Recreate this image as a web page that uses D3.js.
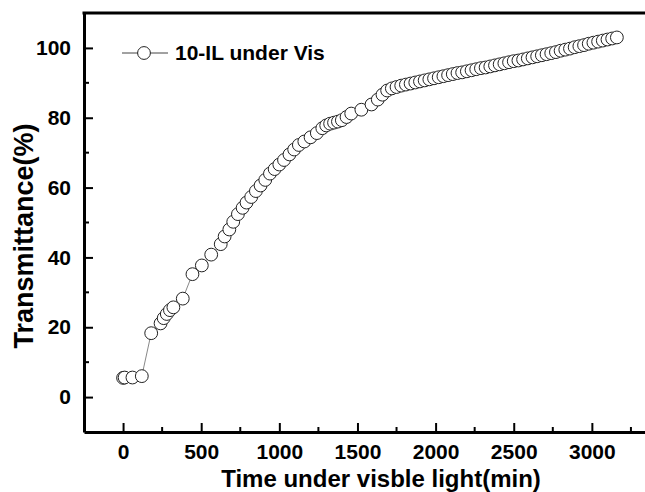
<!DOCTYPE html>
<html>
<head>
<meta charset="utf-8">
<script src="https://cdn.jsdelivr.net/npm/d3@7"></script>
<style>
  body { margin: 0; background: #fff; }
  text { font-family: "Liberation Sans", Arial, sans-serif; font-weight: bold; fill: #000; }
</style>
</head>
<body>
<svg id="chart" width="645" height="492"></svg>
<script>
// time (min) and transmittance (%)
var timeMin = [0, 10, 60, 120, 180, 240, 260, 280, 300, 322, 382, 444, 504, 564, 625,
  650, 680, 705, 735, 765, 790, 820, 850, 880, 910, 940, 970, 1000, 1030, 1065,
  1095, 1125, 1160, 1200, 1240, 1275, 1300, 1325, 1350, 1375, 1400, 1430, 1460, 1525, 1590,
  1630, 1660, 1690, 1720, 1750, 1780, 1810, 1840, 1870, 1900, 1930, 1960, 1990, 2020,
  2050, 2080, 2110, 2140, 2170, 2200, 2230, 2260, 2290, 2320, 2350, 2380, 2410, 2440,
  2470, 2500, 2530, 2560, 2590, 2620, 2650, 2680, 2710, 2740, 2770, 2800, 2830, 2860,
  2890, 2920, 2950, 2980, 3010, 3040, 3070, 3100, 3130, 3160];
var transmittance = [5.5, 5.6, 5.6, 6.0, 18.3, 21.1, 22.6, 23.8, 24.9, 25.7, 28.2, 35.2, 37.7, 40.8, 43.8,
  46.0, 48.0, 50.2, 52.4, 54.2, 55.7, 57.3, 59.0, 60.6, 62.2, 64.0, 65.3, 66.6, 67.9, 69.5,
  70.9, 72.2, 73.2, 74.4, 75.6, 77.0, 77.8, 78.3, 78.6, 78.9, 79.3, 80.2, 81.2, 82.3, 83.8,
  85.2, 86.6, 87.8, 88.4, 88.8, 89.2, 89.5, 89.8, 90.1, 90.4, 90.7, 91.0, 91.3, 91.6,
  91.9, 92.2, 92.5, 92.8, 93.0, 93.3, 93.6, 93.9, 94.2, 94.4, 94.7, 95.0, 95.3, 95.6,
  95.9, 96.2, 96.4, 96.7, 97.0, 97.3, 97.6, 97.9, 98.2, 98.5, 98.8, 99.2, 99.5, 99.8,
  100.2, 100.5, 100.8, 101.2, 101.5, 101.8, 102.1, 102.4, 102.7, 103.0];
var xTicks = [0, 500, 1000, 1500, 2000, 2500, 3000];
var xMinor = [-250, 250, 750, 1250, 1750, 2250, 2750, 3250];
var yTicks = [0, 20, 40, 60, 80, 100];
var yMinor = [10, 30, 50, 70, 90];
var seriesName = "10-IL under Vis";

var data = timeMin.map(function(t, i) { return {t: t, v: transmittance[i]}; });

const svg = d3.select("#chart"),
      plotLeft = 84, plotTop = 13, plotBottom = 432,
      x = d3.scaleLinear().domain([-250, 3500]).range([plotLeft, 670]),
      y = d3.scaleLinear().domain([-10, 110]).range([plotBottom, plotTop]);

// axes, ticks pointing inward
var xAxis = svg.append("g")
    .attr("transform", `translate(0,${plotBottom})`)
    .call(d3.axisBottom(x).tickValues(xTicks).tickSizeInner(-9).tickSizeOuter(0).tickPadding(12).tickFormat(d3.format("d")));
var yAxis = svg.append("g")
    .attr("transform", `translate(${plotLeft},0)`)
    .call(d3.axisLeft(y).tickValues(yTicks).tickSizeInner(-9).tickSizeOuter(0).tickPadding(13).tickFormat(d3.format("d")));

[xAxis, yAxis].forEach(function(a) {
  a.select(".domain").attr("stroke", "#000").attr("stroke-width", 3);
  a.selectAll(".tick line").attr("stroke", "#000").attr("stroke-width", 2);
  a.selectAll(".tick text").style("font-size", "21px").attr("fill", "#000");
});

// minor ticks
svg.selectAll(".xminor").data(xMinor).enter().append("line")
  .attr("x1", d => x(d)).attr("x2", d => x(d))
  .attr("y1", plotBottom).attr("y2", plotBottom - 5)
  .attr("stroke", "#000").attr("stroke-width", 2);
svg.selectAll(".yminor").data(yMinor).enter().append("line")
  .attr("x1", plotLeft).attr("x2", plotLeft + 5)
  .attr("y1", d => y(d)).attr("y2", d => y(d))
  .attr("stroke", "#000").attr("stroke-width", 2);

// top frame line
svg.append("line")
  .attr("x1", plotLeft - 1.5).attr("x2", 670)
  .attr("y1", plotTop).attr("y2", plotTop)
  .attr("stroke", "#000").attr("stroke-width", 3);

// connecting line + open circles
svg.append("path")
  .datum(data)
  .attr("fill", "none")
  .attr("stroke", "#555")
  .attr("stroke-width", 0.7)
  .attr("d", d3.line().x(d => x(d.t)).y(d => y(d.v)));

svg.selectAll(".pt")
  .data(data)
  .enter().append("circle")
    .attr("class", "pt")
    .attr("cx", d => x(d.t))
    .attr("cy", d => y(d.v))
    .attr("r", 6.4)
    .attr("fill", "#fff")
    .attr("stroke", "#222")
    .attr("stroke-width", 1);

// legend
svg.append("line")
  .attr("x1", 122).attr("x2", 168).attr("y1", 53).attr("y2", 53)
  .attr("stroke", "#444").attr("stroke-width", 1);
svg.append("circle")
  .attr("cx", 144).attr("cy", 53).attr("r", 6.4)
  .attr("fill", "#fff").attr("stroke", "#222").attr("stroke-width", 1);
svg.append("text")
  .attr("x", 175).attr("y", 60)
  .style("font-size", "21px")
  .text(seriesName);

// axis titles
svg.append("text")
  .attr("x", 381).attr("y", 487)
  .attr("text-anchor", "middle")
  .style("font-size", "24px")
  .text("Time under visble light(min)");
svg.append("text")
  .attr("transform", "translate(33,236) rotate(-90)")
  .attr("text-anchor", "middle")
  .style("font-size", "27px")
  .text("Transmittance(%)");
</script>
</body>
</html>
